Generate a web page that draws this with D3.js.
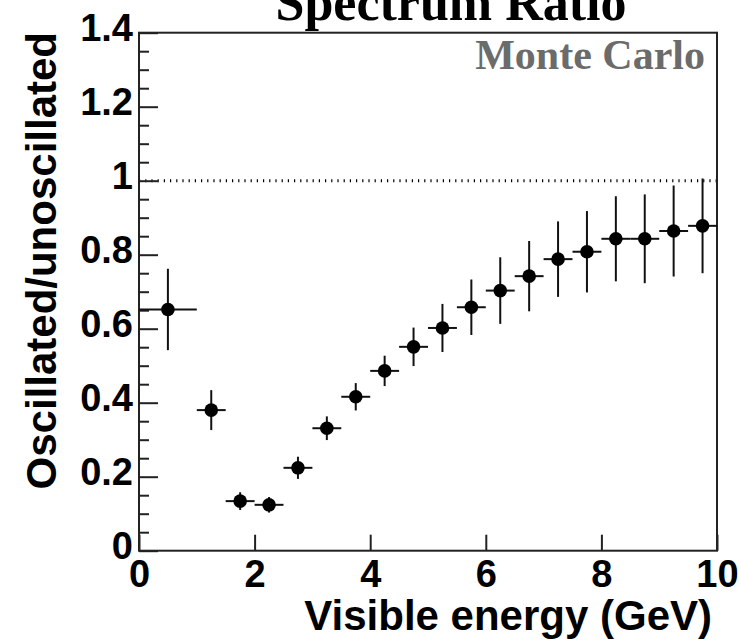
<!DOCTYPE html>
<html>
<head>
<meta charset="utf-8">
<script src="https://cdn.jsdelivr.net/npm/d3@7"></script>
<style>
  body { margin: 0; background: #fff; }
  svg { display: block; }
</style>
</head>
<body>
<div id="chart-area"></div>
<script>
// bin centres, half widths, ratio and its error
var binCenter = [0.5, 1.25, 1.75, 2.25, 2.75, 3.25, 3.75, 4.25, 4.75, 5.25, 5.75, 6.25, 6.75, 7.25, 7.75, 8.25, 8.75, 9.25, 9.75];
var binHalf = [0.5, 0.25, 0.25, 0.25, 0.25, 0.25, 0.25, 0.25, 0.25, 0.25, 0.25, 0.25, 0.25, 0.25, 0.25, 0.25, 0.25, 0.25, 0.25];
var ratio = [0.652, 0.380, 0.134, 0.124, 0.224, 0.331, 0.416, 0.486, 0.551, 0.602, 0.658, 0.703, 0.742, 0.788, 0.808, 0.843, 0.843, 0.864, 0.878];
var ratioErr = [0.110, 0.054, 0.024, 0.021, 0.030, 0.032, 0.037, 0.041, 0.052, 0.065, 0.075, 0.090, 0.095, 0.102, 0.110, 0.115, 0.120, 0.123, 0.128];

var xTicks = [0, 2, 4, 6, 8, 10];
var yTicks = [0, 0.2, 0.4, 0.6, 0.8, 1, 1.2, 1.4];
var yMinorTicks = [0.05, 0.1, 0.15, 0.25, 0.3, 0.35, 0.45, 0.5, 0.55, 0.65, 0.7, 0.75, 0.85, 0.9, 0.95, 1.05, 1.1, 1.15, 1.25, 1.3, 1.35];

var width = 741,
    height = 643;
var padLeft = 139, padRight = 717, padTop = 32.7, padBottom = 550.7;

var x = d3.scaleLinear().domain([0, 10]).range([padLeft, padRight]);
var y = d3.scaleLinear().domain([0, 1.4]).range([padBottom, padTop]);

var svg = d3.select("#chart-area")
    .append("svg")
        .attr("width", width)
        .attr("height", height);

var sans = "'Liberation Sans', Arial, Helvetica, sans-serif";
var serif = "'Liberation Serif', 'Times New Roman', serif";

// reference line at 1
svg.append("line")
    .attr("x1", x(0)).attr("x2", x(10))
    .attr("y1", y(1)).attr("y2", y(1))
    .attr("stroke", "#000")
    .attr("stroke-width", 3)
    .attr("stroke-dasharray", "1.2,5");

// y axis, major and minor ticks point inward
var yAxis = d3.axisLeft(y)
    .tickValues(yTicks)
    .tickSize(-19)
    .tickPadding(6)
    .tickFormat(d3.format("~g"));

var gy = svg.append("g")
    .attr("transform", "translate(" + padLeft + ",0)")
    .call(yAxis);

svg.append("g")
    .attr("transform", "translate(" + padLeft + ",0)")
    .call(d3.axisLeft(y).tickValues(yMinorTicks).tickSize(-10).tickFormat(""));

var xAxis = d3.axisBottom(x)
    .tickValues(xTicks)
    .tickSize(-16)
    .tickPadding(9);

var gx = svg.append("g")
    .attr("transform", "translate(0," + padBottom + ")")
    .call(xAxis);

svg.selectAll(".tick line")
    .attr("stroke", "#222")
    .attr("stroke-width", 2);
svg.selectAll(".domain").remove();

gy.selectAll("text")
    .attr("dy", "0.2em")
    .style("font-family", sans)
    .style("font-weight", "bold")
    .style("font-size", "38px")
    .attr("fill", "#000");

gx.selectAll("text")
    .style("font-family", sans)
    .style("font-weight", "bold")
    .style("font-size", "38px")
    .attr("fill", "#000");

// frame
svg.append("rect")
    .attr("x", padLeft).attr("y", padTop)
    .attr("width", padRight - padLeft).attr("height", padBottom - padTop)
    .attr("fill", "none")
    .attr("stroke", "#222")
    .attr("stroke-width", 2);

// points with error bars
var pts = binCenter.map(function(c, i) {
    return { x: c, h: binHalf[i], v: ratio[i], e: ratioErr[i] };
});

var g = svg.selectAll(".pt")
    .data(pts)
  .enter().append("g")
    .attr("class", "pt");

g.append("line")
    .attr("x1", function(d) { return x(d.x - d.h); })
    .attr("x2", function(d) { return Math.min(x(d.x + d.h), padRight); })
    .attr("y1", function(d) { return y(d.v); })
    .attr("y2", function(d) { return y(d.v); })
    .attr("stroke", "#111")
    .attr("stroke-width", 2);

g.append("line")
    .attr("x1", function(d) { return x(d.x); })
    .attr("x2", function(d) { return x(d.x); })
    .attr("y1", function(d) { return y(d.v - d.e); })
    .attr("y2", function(d) { return y(d.v + d.e); })
    .attr("stroke", "#111")
    .attr("stroke-width", 2);

g.append("circle")
    .attr("cx", function(d) { return x(d.x); })
    .attr("cy", function(d) { return y(d.v); })
    .attr("r", 6.8)
    .attr("fill", "#000");

// texts
svg.append("text")
    .attr("x", 451)
    .attr("y", 20)
    .attr("text-anchor", "middle")
    .style("font-family", serif)
    .style("font-weight", "bold")
    .style("font-size", "52px")
    .text("Spectrum Ratio");

svg.append("text")
    .attr("x", 705)
    .attr("y", 69)
    .attr("text-anchor", "end")
    .attr("fill", "#6b6b6b")
    .style("font-family", serif)
    .style("font-weight", "bold")
    .style("font-size", "42px")
    .text("Monte Carlo");

svg.append("text")
    .attr("x", 712)
    .attr("y", 630)
    .attr("text-anchor", "end")
    .style("font-family", sans)
    .style("font-weight", "bold")
    .style("font-size", "42px")
    .text("Visible energy (GeV)");

svg.append("text")
    .attr("transform", "translate(56,32) rotate(-90)")
    .attr("text-anchor", "end")
    .style("font-family", sans)
    .style("font-weight", "bold")
    .style("font-size", "42px")
    .text("Oscillated/unoscillated");
</script>
</body>
</html>
